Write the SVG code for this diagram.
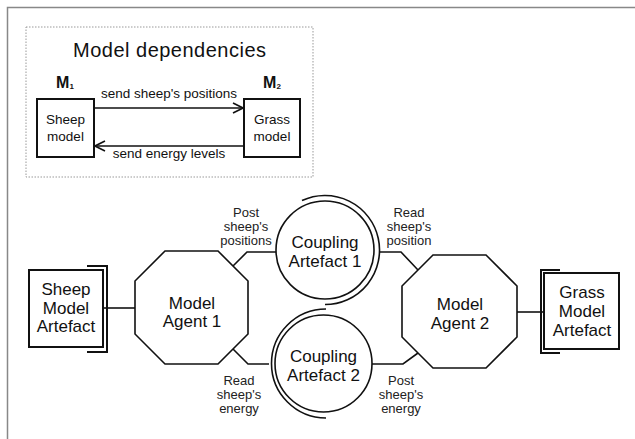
<svg xmlns="http://www.w3.org/2000/svg" width="635" height="439" viewBox="0 0 635 439">
<style>
  text { font-family: "Liberation Sans", Arial, sans-serif; fill: #111; text-anchor: middle; }
  .big { font-size: 17px; }
  .small { font-size: 13px; fill: #222; }
  .mid { font-size: 13.5px; }
  .title { font-size: 20px; }
  .lbl { font-size: 16px; font-weight: bold; }
  .sub { font-size: 8px; font-weight: bold; }
  .shape { fill: #fff; stroke: #111; stroke-width: 1.6; }
  .box { fill: #fff; stroke: #111; stroke-width: 2; }
  .br { fill: none; stroke: #111; stroke-width: 2; }
  .conn { fill: none; stroke: #111; stroke-width: 1.6; }
  .arc { fill: none; stroke: #111; stroke-width: 1.6; }
</style>
<defs>
  <marker id="arrow" markerWidth="12" markerHeight="12" refX="11" refY="6" orient="auto" markerUnits="userSpaceOnUse">
    <path d="M1,1 L11,6 L1,11" fill="none" stroke="#111" stroke-width="1.6"/>
  </marker>
</defs>
<rect width="635" height="439" fill="#fff"/>
<g id="frame">
  <path d="M7.5,439 V7.5 H635" fill="none" stroke="#888" stroke-width="1.5"/>
</g>

<g id="dependencies">
  <rect x="26" y="27" width="287" height="150" fill="none" stroke="#999" stroke-width="1" stroke-dasharray="1.5,1.5"/>
  <text class="title" x="169.5" y="57" textLength="193" lengthAdjust="spacing">Model dependencies</text>
  <g id="m1">
    <text class="lbl" x="65" y="88">M<tspan class="sub" dy="1">1</tspan></text>
    <rect class="box" x="37" y="99" width="57" height="58"/>
    <text class="mid" x="65.5" y="124">Sheep</text>
    <text class="mid" x="65.5" y="141">model</text>
  </g>
  <g id="m2">
    <text class="lbl" x="272" y="88">M<tspan class="sub" dy="1">2</tspan></text>
    <rect class="box" x="244" y="99" width="56" height="58"/>
    <text class="mid" x="272" y="124">Grass</text>
    <text class="mid" x="272" y="141">model</text>
  </g>
  <g id="dep-connectors">
    <line class="conn" x1="94" y1="108" x2="243" y2="108" marker-end="url(#arrow)"/>
    <line class="conn" x1="244" y1="146" x2="95" y2="146" marker-end="url(#arrow)"/>
    <text class="mid" x="169" y="98">send sheep's positions</text>
    <text class="mid" x="169" y="158">send energy levels</text>
  </g>
</g>

<g id="connectors">
  <line class="conn" x1="103" y1="308" x2="135" y2="308"/>
  <line class="conn" x1="517" y1="312" x2="544" y2="312"/>
  <polyline class="conn" points="233,266 247,252 277,252"/>
  <polyline class="conn" points="233,349 248,364 269,364"/>
  <polyline class="conn" points="418,270 401,252 380,252"/>
  <polyline class="conn" points="418,353 403,364 372,364"/>
</g>

<g id="sheep-artefact">
  <rect class="box" x="29" y="270" width="74" height="77"/>
  <path class="br" d="M87,266 H107 V352 H87"/>
  <text class="big" x="66" y="295">Sheep</text>
  <text class="big" x="66" y="313.5">Model</text>
  <text class="big" x="66" y="332">Artefact</text>
</g>

<g id="agent1">
  <polygon class="shape" points="165,251 218,251 248,281 248,334 218,364 165,364 135,334 135,281"/>
  <text class="big" x="192" y="309">Model</text>
  <text class="big" x="192" y="327">Agent 1</text>
</g>

<g id="coupling1">
  <circle class="shape" cx="325" cy="250" r="49"/>
  <path class="arc" d="M302,200.6 A54.5,54.5 0 1 1 325,304.5"/>
  <text class="big" x="325" y="248">Coupling</text>
  <text class="big" x="325" y="267">Artefact 1</text>
</g>

<g id="coupling2">
  <circle class="shape" cx="323.5" cy="363.5" r="48.5"/>
  <path class="arc" d="M326,309 A54.5,54.5 0 1 0 326,418"/>
  <text class="big" x="323.5" y="362">Coupling</text>
  <text class="big" x="323.5" y="381">Artefact 2</text>
</g>

<g id="agent2">
  <polygon class="shape" points="433,255 486,255 517,286 517,337 486,368 433,368 402,337 402,286"/>
  <text class="big" x="460" y="310">Model</text>
  <text class="big" x="460" y="328.5">Agent 2</text>
</g>

<g id="grass-artefact">
  <rect class="box" x="544" y="273" width="75" height="76"/>
  <path class="br" d="M560,270 H541 V353 H560"/>
  <text class="big" x="582" y="298">Grass</text>
  <text class="big" x="582" y="317">Model</text>
  <text class="big" x="582" y="336">Artefact</text>
</g>

<g id="labels">
  <text class="small" x="246" y="217">Post</text>
  <text class="small" x="246" y="231">sheep's</text>
  <text class="small" x="246" y="245">positions</text>
  <text class="small" x="409" y="217">Read</text>
  <text class="small" x="409" y="231">sheep's</text>
  <text class="small" x="409" y="245">position</text>
  <text class="small" x="239" y="385">Read</text>
  <text class="small" x="239" y="399">sheep's</text>
  <text class="small" x="239" y="413">energy</text>
  <text class="small" x="401" y="385">Post</text>
  <text class="small" x="401" y="399">sheep's</text>
  <text class="small" x="401" y="413">energy</text>
</g>
</svg>
